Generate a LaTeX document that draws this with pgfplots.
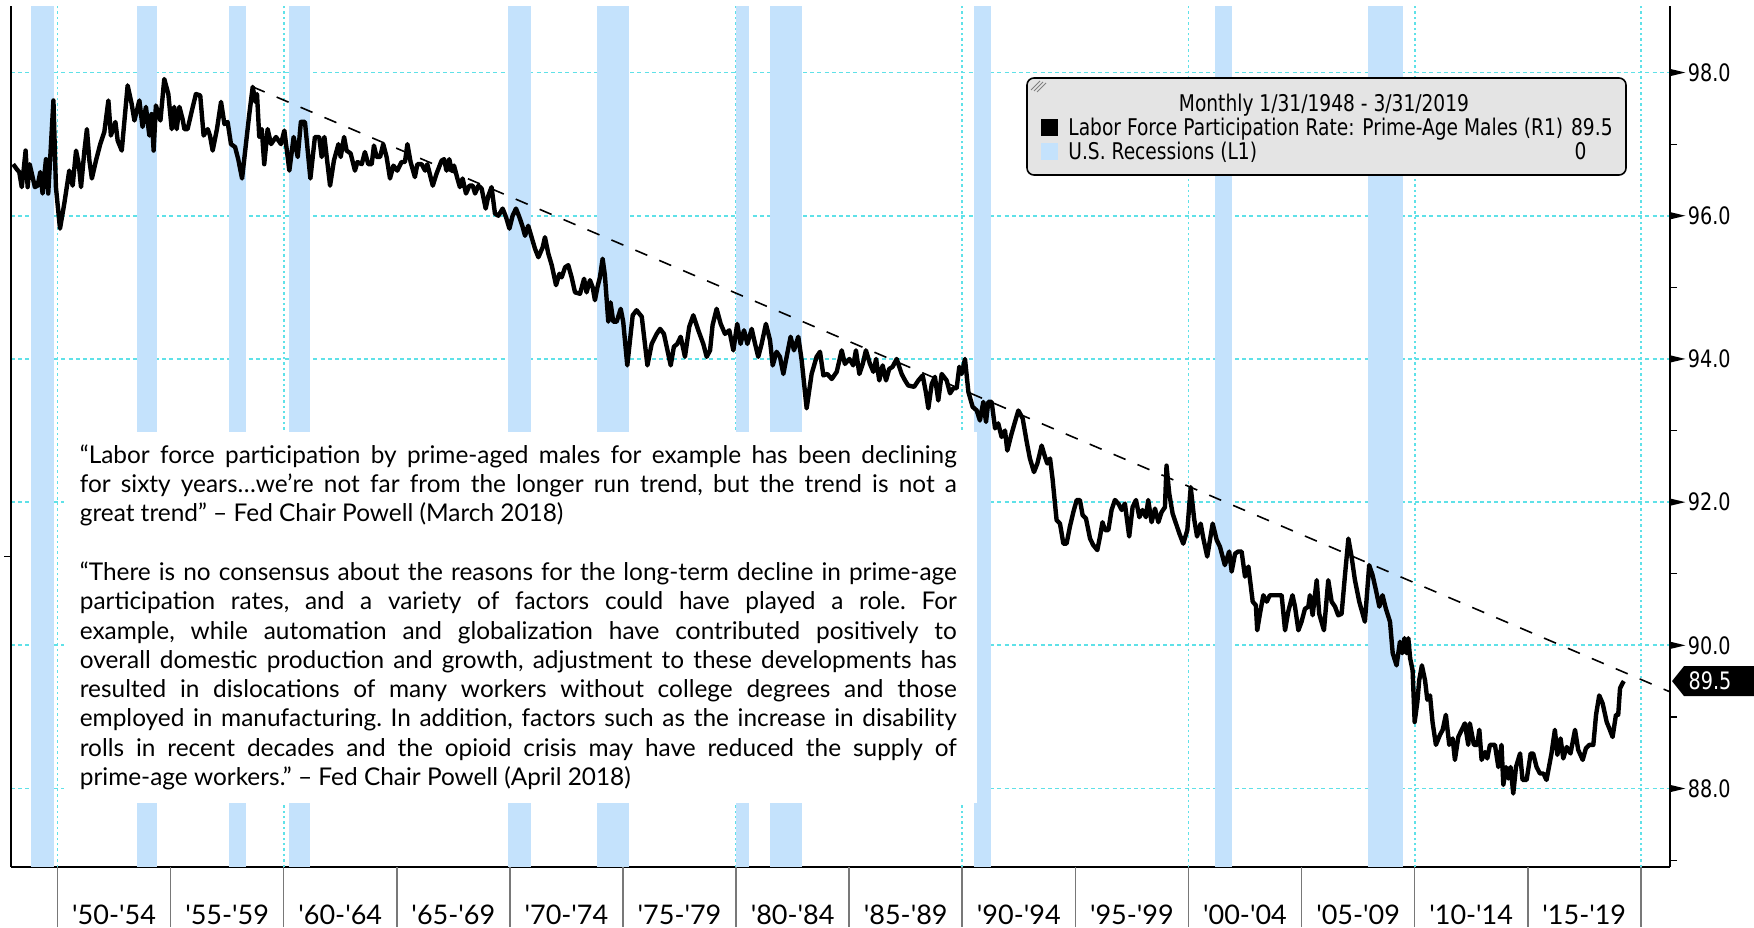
\documentclass[border=0pt]{standalone}
\usepackage{pgfplots}
\pgfplotsset{compat=1.18}
\usepackage{fontspec}
\setmainfont{Lato}
\newfontfamily\legfont{DejaVu Sans}[FakeStretch=0.81]
\newfontfamily\tickfont{DejaVu Sans}[FakeStretch=0.8]
\definecolor{recblue}{RGB}{196,226,252}
\definecolor{gridcyan}{RGB}{95,225,232}
\definecolor{leggray}{RGB}{228,228,228}
\definecolor{sepgray}{RGB}{120,120,120}
\newcommand{\tri}{\llap{\raisebox{2.57pt}{\tikz\fill (0,0)--(0,3.6pt)--(7.5pt,1.8pt)--cycle;}\hspace{1.3pt}}}

\pgfplotstableread{
x y
1948.04 96.72
1948.20 96.65
1948.31 96.61
1948.42 96.40
1948.50 96.63
1948.59 96.91
1948.68 96.40
1948.77 96.72
1949.00 96.40
1949.12 96.42
1949.24 96.61
1949.34 96.31
1949.49 96.79
1949.59 96.31
1949.82 97.61
1949.93 96.40
1950.11 95.82
1950.30 96.17
1950.52 96.63
1950.67 96.42
1950.82 96.91
1950.94 96.72
1951.04 96.40
1951.19 96.91
1951.30 97.21
1951.41 96.77
1951.52 96.52
1951.70 96.77
1951.89 97.00
1952.07 97.17
1952.25 97.61
1952.36 97.12
1952.56 97.31
1952.66 97.05
1952.84 96.91
1953.10 97.82
1953.28 97.56
1953.40 97.33
1953.62 97.61
1953.76 97.24
1953.91 97.52
1954.06 97.12
1954.16 97.42
1954.25 96.91
1954.35 97.54
1954.55 97.33
1954.72 97.91
1954.90 97.70
1955.05 97.21
1955.16 97.52
1955.27 97.21
1955.39 97.52
1955.53 97.35
1955.61 97.21
1955.75 97.21
1955.98 97.52
1956.12 97.70
1956.31 97.68
1956.46 97.12
1956.64 97.21
1956.74 97.12
1956.86 96.91
1957.05 97.21
1957.23 97.59
1957.38 97.28
1957.52 97.31
1957.67 97.00
1957.85 96.96
1957.99 96.79
1958.16 96.52
1958.33 97.00
1958.48 97.42
1958.63 97.80
1958.75 97.59
1958.82 97.70
1958.92 97.10
1959.03 97.21
1959.14 96.72
1959.29 97.21
1959.44 97.00
1959.66 97.10
1959.88 97.00
1960.03 97.19
1960.25 96.63
1960.44 97.10
1960.62 96.82
1960.76 97.31
1960.94 97.31
1961.18 96.52
1961.38 97.10
1961.57 97.10
1961.68 96.82
1961.80 97.10
1962.05 96.42
1962.22 96.77
1962.42 97.00
1962.52 96.82
1962.67 97.10
1962.78 96.91
1962.96 96.87
1963.15 96.63
1963.26 96.75
1963.45 96.72
1963.59 96.89
1963.74 96.72
1963.89 96.72
1963.99 96.98
1964.11 96.82
1964.26 96.82
1964.40 97.00
1964.55 96.82
1964.70 96.52
1964.85 96.70
1965.02 96.63
1965.21 96.75
1965.36 96.75
1965.47 97.00
1965.61 96.75
1965.80 96.54
1965.91 96.72
1966.10 96.72
1966.25 96.63
1966.35 96.72
1966.59 96.42
1966.76 96.59
1966.98 96.77
1967.09 96.79
1967.20 96.63
1967.32 96.79
1967.43 96.63
1967.53 96.70
1967.68 96.52
1967.79 96.40
1967.91 96.52
1968.06 96.31
1968.21 96.42
1968.36 96.42
1968.46 96.31
1968.61 96.42
1968.75 96.38
1968.93 96.10
1969.05 96.28
1969.19 96.40
1969.34 96.03
1969.49 96.00
1969.68 96.10
1969.83 95.98
1969.98 95.82
1970.12 96.00
1970.27 96.10
1970.42 95.98
1970.55 95.86
1970.67 95.72
1970.81 95.86
1970.96 95.70
1971.11 95.54
1971.26 95.42
1971.45 95.56
1971.55 95.70
1971.70 95.47
1971.85 95.31
1972.04 95.03
1972.19 95.19
1972.29 95.14
1972.44 95.28
1972.58 95.31
1972.73 95.14
1972.88 94.93
1973.10 94.91
1973.28 95.12
1973.39 94.93
1973.54 95.10
1973.66 95.00
1973.76 94.82
1973.87 95.00
1973.98 95.14
1974.10 95.40
1974.20 95.17
1974.35 94.52
1974.45 94.79
1974.57 94.52
1974.72 94.52
1974.90 94.70
1975.01 94.52
1975.19 93.91
1975.43 94.61
1975.60 94.68
1975.83 94.59
1976.08 93.91
1976.27 94.21
1976.49 94.35
1976.64 94.42
1976.81 94.35
1977.11 93.91
1977.25 94.17
1977.40 94.21
1977.55 94.31
1977.74 94.03
1977.93 94.45
1978.11 94.61
1978.33 94.40
1978.55 94.21
1978.70 94.03
1978.85 94.12
1978.96 94.47
1979.14 94.70
1979.32 94.49
1979.51 94.35
1979.70 94.40
1979.88 94.12
1980.05 94.49
1980.20 94.21
1980.35 94.40
1980.50 94.21
1980.69 94.42
1980.84 94.21
1980.98 94.03
1981.13 94.21
1981.32 94.49
1981.50 94.26
1981.62 93.91
1981.79 94.10
1981.94 94.03
1982.09 93.79
1982.26 94.07
1982.41 94.31
1982.56 94.12
1982.75 94.31
1982.90 93.98
1983.12 93.31
1983.34 93.79
1983.56 94.03
1983.71 94.10
1983.86 93.77
1984.03 93.79
1984.23 93.72
1984.45 93.82
1984.67 94.12
1984.81 93.93
1985.01 94.00
1985.18 93.91
1985.30 94.12
1985.45 93.79
1985.60 93.93
1985.74 94.12
1985.92 93.93
1986.07 93.82
1986.19 94.00
1986.33 93.70
1986.48 93.91
1986.63 93.70
1986.77 93.86
1986.92 93.89
1987.10 94.00
1987.32 93.79
1987.47 93.70
1987.61 93.63
1987.87 93.61
1988.06 93.70
1988.25 93.77
1988.40 93.52
1988.50 93.31
1988.65 93.65
1988.79 93.75
1988.94 93.42
1989.09 93.79
1989.31 93.70
1989.46 93.52
1989.60 93.59
1989.75 93.59
1989.87 93.89
1989.97 93.79
1990.12 94.00
1990.27 93.54
1990.46 93.33
1990.64 93.28
1990.78 93.14
1990.93 93.40
1991.05 93.12
1991.15 93.40
1991.30 93.40
1991.45 93.03
1991.59 93.10
1991.74 92.91
1991.89 93.00
1991.99 92.72
1992.14 92.91
1992.33 93.12
1992.48 93.28
1992.67 93.17
1992.85 92.84
1992.99 92.61
1993.17 92.42
1993.32 92.54
1993.51 92.79
1993.66 92.63
1993.76 92.54
1993.88 92.61
1993.99 92.33
1994.17 91.75
1994.32 91.70
1994.47 91.42
1994.61 91.42
1994.76 91.66
1994.91 91.86
1995.06 92.03
1995.20 92.03
1995.32 91.82
1995.47 91.77
1995.65 91.49
1995.79 91.40
1995.97 91.33
1996.09 91.52
1996.20 91.72
1996.31 91.61
1996.46 91.61
1996.60 91.89
1996.75 92.03
1996.90 91.98
1997.05 91.89
1997.19 91.98
1997.38 91.52
1997.53 91.93
1997.68 92.03
1997.83 91.79
1997.97 91.89
1998.12 91.79
1998.22 92.03
1998.37 91.72
1998.52 91.91
1998.67 91.72
1998.81 91.86
1998.96 91.93
1999.03 92.51
1999.15 92.12
1999.30 91.84
1999.45 91.70
1999.60 91.56
1999.77 91.42
1999.95 91.61
2000.10 92.21
2000.25 91.77
2000.38 91.52
2000.54 91.70
2000.66 91.49
2000.83 91.24
2001.07 91.70
2001.25 91.47
2001.39 91.38
2001.61 91.12
2001.80 91.31
2001.91 91.03
2002.06 91.28
2002.20 91.31
2002.35 91.31
2002.50 90.96
2002.65 91.10
2002.84 90.61
2002.98 90.56
2003.04 90.21
2003.16 90.44
2003.31 90.70
2003.46 90.61
2003.60 90.70
2003.90 90.70
2004.12 90.70
2004.27 90.21
2004.41 90.47
2004.60 90.70
2004.71 90.54
2004.86 90.21
2005.00 90.33
2005.15 90.51
2005.30 90.54
2005.37 90.70
2005.49 90.42
2005.67 90.91
2005.78 90.44
2005.99 90.21
2006.18 90.91
2006.33 90.61
2006.48 90.54
2006.62 90.42
2006.77 90.44
2006.92 90.98
2007.07 91.49
2007.21 91.24
2007.36 90.91
2007.55 90.61
2007.80 90.33
2007.99 91.12
2008.14 90.98
2008.29 90.77
2008.44 90.54
2008.58 90.70
2008.73 90.51
2008.91 90.33
2009.03 89.89
2009.20 89.72
2009.35 90.05
2009.45 89.89
2009.55 90.10
2009.64 89.89
2009.72 90.10
2009.80 89.82
2009.91 89.65
2010.00 88.93
2010.12 89.21
2010.20 89.51
2010.32 89.72
2010.46 89.51
2010.56 89.24
2010.68 89.30
2010.79 88.93
2010.94 88.61
2011.12 88.75
2011.24 88.82
2011.38 89.03
2011.53 88.61
2011.68 88.70
2011.78 88.40
2011.93 88.72
2012.08 88.82
2012.22 88.91
2012.37 88.61
2012.44 88.91
2012.62 88.61
2012.77 88.61
2012.86 88.82
2012.96 88.40
2013.11 88.51
2013.21 88.42
2013.33 88.61
2013.55 88.61
2013.70 88.30
2013.84 88.61
2013.92 88.05
2014.04 88.30
2014.14 88.14
2014.24 88.30
2014.36 87.93
2014.48 88.30
2014.66 88.49
2014.77 88.12
2014.95 88.12
2015.13 88.49
2015.24 88.49
2015.39 88.30
2015.54 88.21
2015.69 88.21
2015.83 88.12
2016.05 88.49
2016.20 88.82
2016.31 88.47
2016.45 88.70
2016.57 88.42
2016.72 88.58
2016.89 88.49
2017.09 88.82
2017.23 88.54
2017.43 88.40
2017.57 88.56
2017.72 88.61
2017.90 88.61
2018.02 89.03
2018.16 89.30
2018.31 89.19
2018.49 88.93
2018.63 88.82
2018.75 88.72
2018.90 89.03
2019.00 89.03
2019.08 89.40
2019.19 89.47
2019.25 89.50
}\lfpr

\begin{document}
\begin{tikzpicture}
\begin{axis}[
  at={(0,0)}, anchor=south west,
  scale only axis, width=829.5pt, height=430.7pt,
  xmin=1947.944, xmax=2021.29, ymin=86.904, ymax=98.935,
  clip=false,
  axis x line*=bottom, axis y line*=box,
  axis line style={line width=1.3pt, black},
  tick align=outside,
  major tick style={draw=none}, minor tick length=3.5pt,
  xtick={1952.5,1957.5,1962.5,1967.5,1972.5,1977.5,1982.5,1987.5,1992.5,1997.5,2002.5,2007.5,2012.5,2017.5},
  xticklabels={\textquotesingle50-\textquotesingle54,\textquotesingle55-\textquotesingle59,\textquotesingle60-\textquotesingle64,\textquotesingle65-\textquotesingle69,\textquotesingle70-\textquotesingle74,\textquotesingle75-\textquotesingle79,\textquotesingle80-\textquotesingle84,\textquotesingle85-\textquotesingle89,\textquotesingle90-\textquotesingle94,\textquotesingle95-\textquotesingle99,\textquotesingle00-\textquotesingle04,\textquotesingle05-\textquotesingle09,\textquotesingle10-\textquotesingle14,\textquotesingle15-\textquotesingle19},
  xticklabel style={anchor=center, yshift=-19.7pt, inner sep=0pt, font=\fontsize{13.5}{15}\selectfont},
  ytick={88,90,92,94,96,98},
  minor ytick={87,89,91,93,95,97},
  ytick pos=right, yticklabel pos=right,
  yticklabel={\tri\pgfmathprintnumber[fixed,fixed zerofill,precision=1,assume math mode=true]{\tick}},
  yticklabel style={anchor=west, inner sep=0pt, xshift=4.5pt, font=\tickfont\fontsize{12}{14}\selectfont},
  minor tick style={black, line width=0.6pt},
  ymajorgrids,
  major grid style={gridcyan, line width=0.9pt, dash pattern=on 2pt off 1.6pt},
]
% vertical grid lines every 10 years
\pgfplotsinvokeforeach{1950,1960,1970,1980,1990,2000,2010,2020}{
  \addplot[gridcyan, line width=0.9pt, dash pattern=on 1.2pt off 1.5pt, forget plot] coordinates {(#1,86.904) (#1,98.935)};
}
% separators below the axis
\pgfplotsinvokeforeach{1950,1955,1960,1965,1970,1975,1980,1985,1990,1995,2000,2005,2010,2015,2020}{
  \addplot[sepgray, line width=0.8pt, forget plot] coordinates {(#1,86.904) (#1,86.067)};
}
% recessions (start, end)
\addplot[fill=recblue, draw=none, forget plot] coordinates {(1948.83,86.904) (1948.83,98.935) (1949.83,98.935) (1949.83,86.904)} --cycle;
\addplot[fill=recblue, draw=none, forget plot] coordinates {(1953.50,86.904) (1953.50,98.935) (1954.42,98.935) (1954.42,86.904)} --cycle;
\addplot[fill=recblue, draw=none, forget plot] coordinates {(1957.58,86.904) (1957.58,98.935) (1958.33,98.935) (1958.33,86.904)} --cycle;
\addplot[fill=recblue, draw=none, forget plot] coordinates {(1960.25,86.904) (1960.25,98.935) (1961.17,98.935) (1961.17,86.904)} --cycle;
\addplot[fill=recblue, draw=none, forget plot] coordinates {(1969.92,86.904) (1969.92,98.935) (1970.92,98.935) (1970.92,86.904)} --cycle;
\addplot[fill=recblue, draw=none, forget plot] coordinates {(1973.83,86.904) (1973.83,98.935) (1975.25,98.935) (1975.25,86.904)} --cycle;
\addplot[fill=recblue, draw=none, forget plot] coordinates {(1980.00,86.904) (1980.00,98.935) (1980.58,98.935) (1980.58,86.904)} --cycle;
\addplot[fill=recblue, draw=none, forget plot] coordinates {(1981.50,86.904) (1981.50,98.935) (1982.92,98.935) (1982.92,86.904)} --cycle;
\addplot[fill=recblue, draw=none, forget plot] coordinates {(1990.50,86.904) (1990.50,98.935) (1991.25,98.935) (1991.25,86.904)} --cycle;
\addplot[fill=recblue, draw=none, forget plot] coordinates {(2001.17,86.904) (2001.17,98.935) (2001.92,98.935) (2001.92,86.904)} --cycle;
\addplot[fill=recblue, draw=none, forget plot] coordinates {(2007.92,86.904) (2007.92,98.935) (2009.50,98.935) (2009.50,86.904)} --cycle;
% white text box
\addplot[fill=white, draw=none, forget plot] coordinates {(1950.30,87.80) (1950.30,92.98) (1990.63,92.98) (1990.63,87.80)} --cycle;
\node[anchor=base west, inner sep=0pt] at (axis cs:1950.97,92.543) {%
\begin{minipage}[t]{438.5pt}
\fontsize{12.2}{14.65}\selectfont\frenchspacing
\hyphenpenalty=10000 \exhyphenpenalty=10000 \tolerance=9999 \emergencystretch=0pt
\parindent=0pt \parskip=0pt
“Labor force participation by prime-aged males for example has been declining\linebreak
for sixty years…we’re not far from the longer run trend, but the trend is not a\linebreak
great trend” – Fed Chair Powell (March 2018)\par
\vspace{14.65pt}
“There is no consensus about the reasons for the long-term decline in prime-age\linebreak
participation rates, and a variety of factors could have played a role. For\linebreak
example, while automation and globalization have contributed positively to\linebreak
overall domestic production and growth, adjustment to these developments has\linebreak
resulted in dislocations of many workers without college degrees and those\linebreak
employed in manufacturing. In addition, factors such as the increase in disability\linebreak
rolls in recent decades and the opioid crisis may have reduced the supply of\linebreak
prime-age workers.” – Fed Chair Powell (April 2018)\par
\end{minipage}};
% trend line
\addplot[black, line width=0.8pt, dash pattern=on 6.5pt off 6.5pt, forget plot] coordinates {(1958.63,97.80) (2021.29,89.35)};
% data
\addplot[black, line width=2.2pt, line join=round, forget plot] table[x=x,y=y] {\lfpr};
% left small tick
\draw[line width=0.8pt] (axis cs:1947.944,91.24) -- ++(-3.5pt,0pt);
% last value tag
\fill (axis cs:2021.29,89.5) ++(1pt,0pt) -- ++(6pt,7.5pt) -- ++(36pt,0pt) -- ++(0pt,-15pt) -- ++(-36pt,0pt) -- cycle;
\node[text=white, inner sep=0pt, xshift=20pt, font=\tickfont\fontsize{12}{14}\selectfont] at (axis cs:2021.29,89.5) {89.5};
\end{axis}
% legend box (pixel coordinates of the reference)
\begin{scope}[x=0.5pt, y=-0.5pt, xshift=-5.5pt, yshift=433.5pt]
\draw[fill=leggray, line width=0.8pt, rounded corners=3.5pt] (1027,78) rectangle (1626,175);
\draw[gray, line width=0.5pt] (1031,90) -- (1040,81) (1034,91) -- (1043,82) (1037,92) -- (1046,83);
\fill[black] (1041,119) rectangle (1058,136);
\fill[recblue] (1041,143) rectangle (1058,160);
\begin{scope}[every node/.style={inner sep=0pt, font=\legfont\fontsize{11.5}{13}\selectfont}]
\node[anchor=base] at (1324,111.4) {Monthly 1/31/1948 - 3/31/2019};
\node[anchor=base west] at (1068,136) {Labor Force Participation Rate: Prime-Age Males (R1)};
\node[anchor=base east] at (1613,136) {89.5};
\node[anchor=base west] at (1068,159.4) {U.S. Recessions (L1)};
\node[anchor=base] at (1580.6,159.4) {0};
\end{scope}
\end{scope}
\pgfresetboundingbox
\path (-5.5pt,-30pt) rectangle (871.5pt,433.5pt);
\end{tikzpicture}
\end{document}
